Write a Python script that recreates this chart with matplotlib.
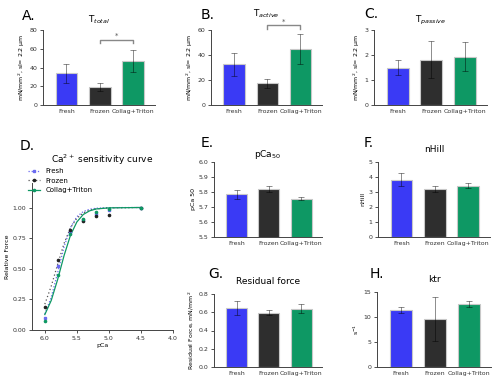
import matplotlib.pyplot as plt

groups = ["Fresh", "Frozen", "Collag+Triton"]
colors = ["#3a3af5", "#2e2e2e", "#0e9864"]

# bar panels: mean, sd
t_total = [34, 19, 47]
t_total_err = [10, 4.5, 12]
t_active = [32.5, 17.5, 45]
t_active_err = [9.5, 3.5, 12]
t_passive = [1.5, 1.82, 1.94]
t_passive_err = [0.3, 0.74, 0.59]
pca50 = [5.785, 5.82, 5.755]
pca50_err = [0.03, 0.02, 0.01]
nhill = [3.82, 3.18, 3.43]
nhill_err = [0.45, 0.21, 0.15]
residual = [0.645, 0.595, 0.64]
residual_err = [0.08, 0.028, 0.05]
ktr = [11.4, 9.6, 12.7]
ktr_err = [0.65, 4.4, 0.6]

# Ca2+ sensitivity: measured points
pca_pts = [6.0, 5.8, 5.6, 5.4, 5.2, 5.0, 4.5]
fresh_pts = [0.10, 0.52, 0.80, 0.90, 0.95, 0.98, 1.0]
frozen_pts = [0.19, 0.57, 0.82, 0.89, 0.93, 0.94, 1.0]
collag_pts = [0.07, 0.45, 0.78, 0.91, 0.96, 0.99, 1.0]
# fitted curves
pca_fit = [6.0, 5.9, 5.8, 5.7, 5.6, 5.5, 5.4, 5.3, 5.2, 5.0, 4.5]
fresh_fit = [0.131, 0.267, 0.467, 0.679, 0.836, 0.925, 0.967, 0.986, 0.994, 0.999, 1.0]
frozen_fit = [0.211, 0.358, 0.536, 0.707, 0.834, 0.912, 0.956, 0.978, 0.989, 0.997, 1.0]
collag_fit = [0.126, 0.241, 0.412, 0.607, 0.773, 0.882, 0.943, 0.973, 0.988, 0.997, 1.0]

W, H = 500, 390
fig = plt.figure(figsize=(5, 3.9), dpi=100)


def make_ax(left, top, right, bottom):
    return fig.add_axes([left / W, 1 - bottom / H, (right - left) / W, (bottom - top) / H])


def style(ax):
    for s in ["top", "right"]:
        ax.spines[s].set_visible(False)
    for s in ["left", "bottom"]:
        ax.spines[s].set_linewidth(0.7)
        ax.spines[s].set_color("#444444")
    ax.tick_params(labelsize=4.5, width=0.6, length=2.5, pad=1.5, colors="#333333")


def bar_panel(box, vals, errs, ylim, yticks, title, ylabel, label, label_xy, title_y, fmt=None):
    ax = make_ax(*box)
    x = range(len(groups))
    ax.bar(x, vals, width=0.65, color=colors, edgecolor="#c8c8c8", linewidth=0.8)
    ax.errorbar(x, vals, yerr=errs, fmt="none", ecolor="black", alpha=0.45,
                elinewidth=0.7, capsize=2.2, capthick=0.7)
    ax.set_xlim(-0.7, 2.65)
    ax.set_ylim(*ylim)
    ax.set_yticks(yticks)
    if fmt:
        ax.set_yticklabels([fmt.format(t) for t in yticks])
    ax.set_xticks(list(x))
    ax.set_xticklabels(groups)
    style(ax)
    ax.tick_params(axis="x", length=0, pad=3)
    ax.set_ylabel(ylabel, fontsize=4.5, labelpad=2)
    cx = (box[0] + box[2]) / 2
    fig.text(cx / W, 1 - title_y / H, title, fontsize=6.5, ha="center", va="center")
    fig.text(label_xy[0] / W, 1 - label_xy[1] / H, label, fontsize=10, ha="left", va="center")
    return ax


def bracket(ax, y, h, star_y):
    ax.plot([1, 1, 2, 2], [y - h, y, y, y - h], color="#888888", lw=1.0, clip_on=False)
    ax.text(1.5, star_y, "*", fontsize=5, ha="center", va="center", color="#555555")


ax = bar_panel((43, 30, 155, 105), t_total, t_total_err, (0, 80), [0, 20, 40, 60, 80],
               "T$_{total}$", "mN/mm$^2$, sl= 2.2 µm", "A.", (22, 16), 20)
bracket(ax, 69, 3, 74)
ax = bar_panel((211, 30, 322, 105), t_active, t_active_err, (0, 60), [0, 20, 40, 60],
               "T$_{active}$", "mN/mm$^2$, sl= 2.2 µm", "B.", (201, 15), 14)
bracket(ax, 64, 3, 67)
bar_panel((374, 30, 487, 105), t_passive, t_passive_err, (0, 3), [0, 1, 2, 3],
          "T$_{passive}$", "mN/mm$^2$, sl= 2.2 µm", "C.", (364, 14), 20)
bar_panel((214, 162, 322, 237), pca50, pca50_err, (5.5, 6.0), [5.5, 5.6, 5.7, 5.8, 5.9, 6.0],
          "pCa$_{50}$", "pCa 50", "E.", (201, 143), 155, "{:.1f}")
bar_panel((378, 162, 490, 237), nhill, nhill_err, (0, 5), [0, 1, 2, 3, 4, 5],
          "nHill", "nHill", "F.", (364, 143), 150)
bar_panel((214, 294, 322, 367), residual, residual_err, (0, 0.8), [0, 0.2, 0.4, 0.6, 0.8],
          "Residual force", "Residual Force, mN/mm$^2$", "G.", (208, 274), 282, "{:.1f}")
bar_panel((377, 292, 491, 367), ktr, ktr_err, (0, 15), [0, 5, 10, 15],
          "ktr", "s$^{-1}$", "H.", (370, 274), 280)

# D: Ca2+ sensitivity curve
ax = make_ax(32, 183, 173, 330)
ax.plot(pca_fit, fresh_fit, color="#6a6af0", lw=0.9, ls=(0, (1, 1.5)))
ax.plot(pca_fit, frozen_fit, color="#555555", lw=0.9, ls=(0, (1, 2)))
ax.plot(pca_fit, collag_fit, color="#0e9864", lw=0.9)
ax.plot(pca_pts, fresh_pts, "s", color="#6a6af0", ms=1.6, ls="none")
ax.plot(pca_pts, frozen_pts, "o", color="#222222", ms=1.6, ls="none")
ax.plot(pca_pts, collag_pts, "o", color="#0e9864", ms=1.6, ls="none")
# legend handles
h1, = ax.plot([], [], color="#6a6af0", lw=0.9, ls=(0, (1, 1.5)), marker="s", ms=1.6)
h2, = ax.plot([], [], color="#555555", lw=0.9, ls=(0, (1, 2)), marker="o", ms=1.6,
              markerfacecolor="#222222", markeredgecolor="#222222")
h3, = ax.plot([], [], color="#0e9864", lw=0.9, marker="o", ms=1.6)
ax.legend([h1, h2, h3], groups, loc="upper left", bbox_to_anchor=(-0.05, 1.12),
          frameon=False, fontsize=5, handlelength=1.8, labelspacing=0.5, borderaxespad=0)
ax.set_xlim(6.2, 4.0)
ax.set_xticks([6.0, 5.5, 5.0, 4.5, 4.0])
ax.set_xticklabels(["6.0", "5.5", "5.0", "4.5", "4.0"])
ax.set_ylim(0, 1.2)
ax.set_yticks([0, 0.25, 0.5, 0.75, 1.0])
ax.set_yticklabels(["0.00", "0.25", "0.50", "0.75", "1.00"])
style(ax)
ax.set_xlabel("pCa", fontsize=4.5, labelpad=2)
ax.set_ylabel("Relative Force", fontsize=4.5, labelpad=2)
fig.text(102 / W, 1 - 160 / H, "Ca$^{2+}$ sensitivity curve", fontsize=6.5, ha="center", va="center")
fig.text(20 / W, 1 - 146 / H, "D.", fontsize=10, ha="left", va="center")

fig.savefig("out.png", dpi=100)
